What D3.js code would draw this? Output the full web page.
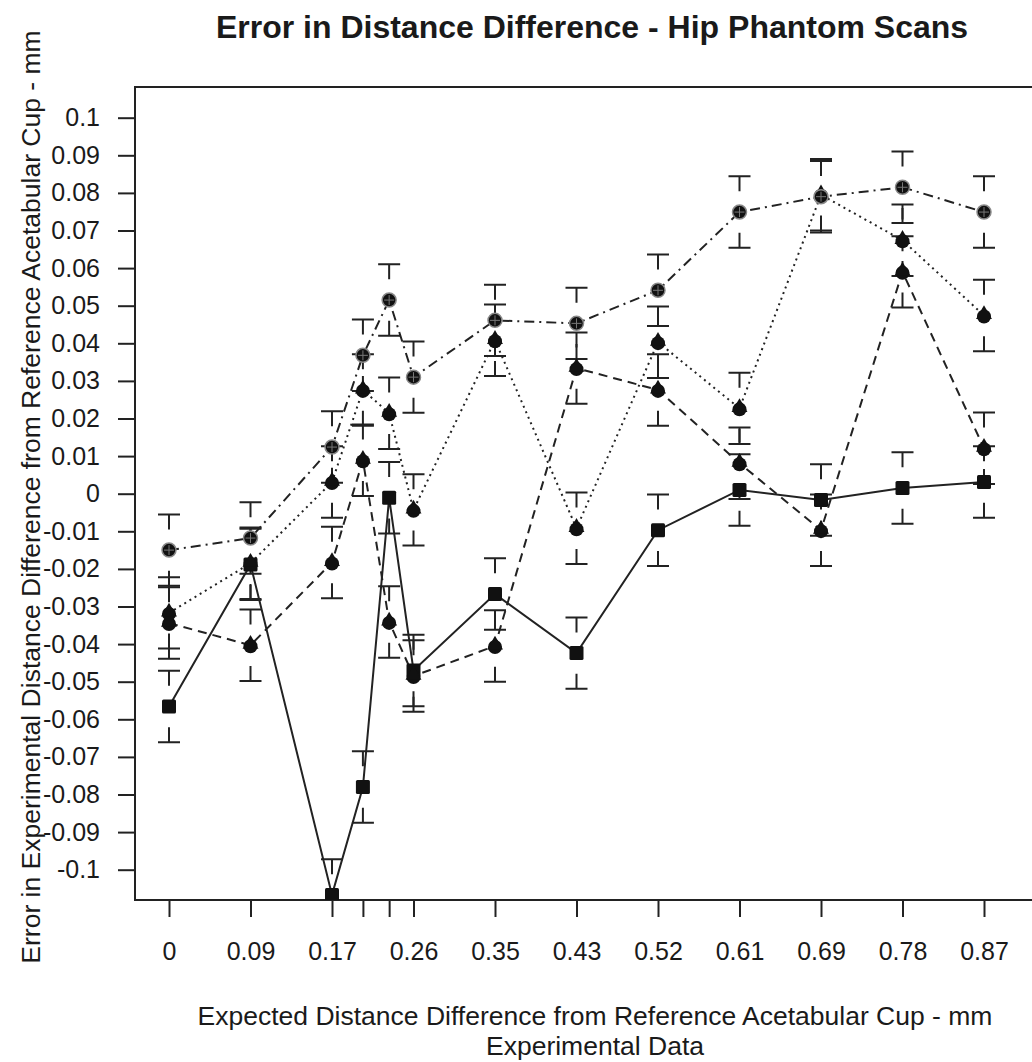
<!DOCTYPE html>
<html>
<head>
<meta charset="utf-8">
<script src="https://cdn.jsdelivr.net/npm/d3@7"></script>
<style>
  body { margin: 0; background: #fff; }
  text { font-family: "Liberation Sans", Arial, Helvetica, sans-serif; fill: #1a1a1a; }
</style>
</head>
<body>
<svg id="chart"></svg>
<script>
/* data */
var xVals = [0, 0.087, 0.174, 0.207, 0.235, 0.261, 0.348, 0.435, 0.522, 0.609, 0.696, 0.783, 0.870];
var xTickLabels = ['0', '0.09', '0.17', '', '', '0.26', '0.35', '0.43', '0.52', '0.61', '0.69', '0.78', '0.87'];
var yTickVals = [0.1, 0.09, 0.08, 0.07, 0.06, 0.05, 0.04, 0.03, 0.02, 0.01, 0,
  -0.01, -0.02, -0.03, -0.04, -0.05, -0.06, -0.07, -0.08, -0.09, -0.1];

// four scan series, one value per x
var solidVals   = [-0.0566, -0.0188, -0.1067, -0.078, -0.0011, -0.047, -0.0267, -0.0424, -0.0097, 0.001, -0.0017, 0.0015, 0.0031];
var dashedVals  = [-0.0344, -0.0403, -0.0183, 0.0089, -0.0341, -0.0485, -0.0405, 0.0334, 0.0276, 0.0081, -0.0097, 0.059, 0.0121];
var dottedVals  = [-0.0317, -0.0185, 0.0031, 0.0276, 0.0214, -0.0043, 0.0408, -0.0092, 0.0403, 0.0227, 0.0795, 0.0674, 0.0474];
var dotDashVals = [-0.015, -0.0118, 0.0124, 0.0368, 0.0515, 0.031, 0.0461, 0.0453, 0.0541, 0.0749, 0.079, 0.0815, 0.0749];

// half width of every error bar
var errHalf = 0.0095;

var width = 1032;
var height = 1062;

var svg = d3.select('#chart')
  .attr('width', width)
  .attr('height', height);

var plotLeft = 135, plotTop = 87, plotBottom = 900, plotRight = 1040;

var x = d3.scaleLinear().domain([0, 0.87]).range([169, 984]);
var y = d3.scaleLinear().domain([-0.1, 0.1]).range([869.7, 117.7]);

var series = [
  { vals: solidVals,   dash: null,          marker: 'square' },
  { vals: dashedVals,  dash: '9,6',         marker: 'bell' },
  { vals: dottedVals,  dash: '2,4',         marker: 'bell' },
  { vals: dotDashVals, dash: '10,5,2,5',    marker: 'cross' }
];

svg.append('defs').append('clipPath').attr('id', 'plotclip')
  .append('rect')
    .attr('x', plotLeft)
    .attr('y', plotTop)
    .attr('width', plotRight - plotLeft)
    .attr('height', plotBottom - plotTop);

/* axes */
var xAxis = d3.axisBottom(x)
  .tickValues(xVals)
  .tickFormat(function (d, i) { return xTickLabels[i]; })
  .tickSize(17)
  .tickSizeOuter(0)
  .tickPadding(25);

var yAxis = d3.axisLeft(y)
  .tickValues(yTickVals)
  .tickFormat(function (d) { return String(+d.toFixed(2)); })
  .tickSize(17)
  .tickSizeOuter(0)
  .tickPadding(18);

var gx = svg.append('g')
  .attr('transform', 'translate(0,' + plotBottom + ')')
  .call(xAxis);
var gy = svg.append('g')
  .attr('transform', 'translate(' + plotLeft + ',0)')
  .call(yAxis);

[gx, gy].forEach(function (g) {
  g.select('.domain').remove();
  g.selectAll('line').attr('stroke', '#222').attr('stroke-width', 2);
  g.selectAll('text')
    .style('font-size', '25px')
    .attr('fill', '#1a1a1a');
});

// the frame, open on the right (runs off the picture)
svg.append('path')
  .attr('d', 'M' + width + ',' + plotTop + 'H' + plotLeft + 'V' + plotBottom + 'H' + width)
  .attr('fill', 'none')
  .attr('stroke', '#222')
  .attr('stroke-width', 2);

/* lines, error bars, markers */
var plot = svg.append('g').attr('clip-path', 'url(#plotclip)');

var line = d3.line()
  .x(function (d, i) { return x(xVals[i]); })
  .y(function (d) { return y(d); });

series.forEach(function (s) {
  plot.append('path')
    .datum(s.vals)
    .attr('d', line)
    .attr('fill', 'none')
    .attr('stroke', '#222')
    .attr('stroke-width', 2)
    .attr('stroke-dasharray', s.dash);
});

var capW = 11, stub = 15;
series.forEach(function (s) {
  var bars = plot.append('g')
    .attr('stroke', '#222')
    .attr('stroke-width', 2)
    .attr('fill', 'none');
  s.vals.forEach(function (v, i) {
    var cx = x(xVals[i]);
    var yt = y(v + errHalf), yb = y(v - errHalf);
    bars.append('path')
      .attr('d', 'M' + (cx - capW) + ',' + yt + 'H' + (cx + capW) +
                 'M' + cx + ',' + yt + 'V' + (yt + stub) +
                 'M' + (cx - capW) + ',' + yb + 'H' + (cx + capW) +
                 'M' + cx + ',' + yb + 'V' + (yb - stub));
  });
});

function drawMarker (g, type, cx, cy) {
  if (type === 'square') {
    g.append('rect')
      .attr('x', cx - 7).attr('y', cy - 7)
      .attr('width', 14).attr('height', 14)
      .attr('rx', 1.5)
      .attr('fill', '#111');
  } else if (type === 'bell') {
    g.append('circle').attr('cx', cx).attr('cy', cy + 1).attr('r', 7).attr('fill', '#111');
    g.append('path')
      .attr('d', d3.symbol().type(d3.symbolTriangle).size(110)())
      .attr('transform', 'translate(' + cx + ',' + (cy - 1) + ')')
      .attr('fill', '#111');
  } else {
    g.append('circle').attr('cx', cx).attr('cy', cy).attr('r', 7)
      .attr('fill', '#111').attr('stroke', '#888').attr('stroke-width', 1.5);
    g.append('path')
      .attr('d', 'M' + (cx - 5) + ',' + cy + 'H' + (cx + 5) + 'M' + cx + ',' + (cy - 5) + 'V' + (cy + 5))
      .attr('stroke', '#777').attr('stroke-width', 1);
  }
}

series.forEach(function (s) {
  var g = plot.append('g');
  s.vals.forEach(function (v, i) {
    drawMarker(g, s.marker, x(xVals[i]), y(v));
  });
});

/* titles */
svg.append('text')
  .attr('x', 592)
  .attr('y', 38)
  .attr('text-anchor', 'middle')
  .style('font-size', '32px')
  .style('font-weight', 'bold')
  .text('Error in Distance Difference - Hip Phantom Scans');

svg.append('text')
  .attr('transform', 'translate(40,497) rotate(-90)')
  .attr('text-anchor', 'middle')
  .style('font-size', '26.5px')
  .text('Error in Experimental Distance Difference from Reference Acetabular Cup - mm');

svg.append('text')
  .attr('x', 595)
  .attr('y', 1025)
  .attr('text-anchor', 'middle')
  .style('font-size', '26.5px')
  .text('Expected Distance Difference from Reference Acetabular Cup - mm');

svg.append('text')
  .attr('x', 595)
  .attr('y', 1055)
  .attr('text-anchor', 'middle')
  .style('font-size', '26.5px')
  .text('Experimental Data');
</script>
</body>
</html>
